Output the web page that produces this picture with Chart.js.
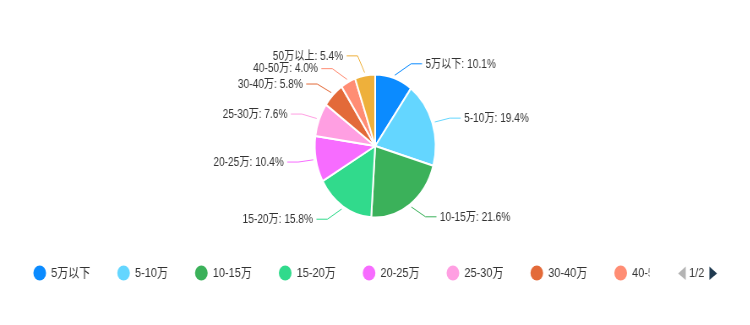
<!DOCTYPE html>
<html>
<head>
<meta charset="utf-8">
<title>收入分布</title>
<script src="https://cdn.jsdelivr.net/npm/chart.js@4/dist/chart.umd.min.js"></script>
<style>
  html, body { margin: 0; padding: 0; background: #fff; overflow: hidden; }
  /* the chart is drawn on a wider canvas and squeezed horizontally */
  #wrap { width: 888px; height: 325px; transform: scaleX(0.845); transform-origin: 0 0; }
</style>
</head>
<body>
<div id="wrap"><canvas id="grafico" width="888" height="325"></canvas></div>
<script>
const categorias = ['5万以下', '5-10万', '10-15万', '15-20万', '20-25万', '25-30万', '30-40万', '40-50万', '50万以上'];
const percentuais = [10.1, 19.4, 21.6, 15.8, 10.4, 7.6, 5.8, 4.0, 5.4];
const cores = ['#0b8bff', '#64d6ff', '#3bb15a', '#31da8c', '#f76cff', '#ff9fe2', '#e36a39', '#ff8d74', '#eeb03b'];
const paginaAtual = 1;
const totalPaginas = 2;

const FONTE = '"Liberation Sans", "Noto Sans CJK SC", sans-serif';

// labels outside the pie with a bent leader line
const rotulosExternos = {
    id: 'rotulosExternos',
    afterDatasetsDraw(chart) {
        const ctx = chart.ctx;
        const meta = chart.getDatasetMeta(0);
        const itens = meta.data.map((arc, i) => {
            const p = arc.getProps(['x', 'y', 'outerRadius', 'startAngle', 'endAngle'], true);
            const meio = (p.startAngle + p.endAngle) / 2;
            const c = Math.cos(meio), s = Math.sin(meio);
            return {
                i: i, cx: p.x, cy: p.y, r: p.outerRadius, direita: c >= 0,
                sx: p.x + c * (p.outerRadius + 3), sy: p.y + s * (p.outerRadius + 3),
                ly: p.y + s * (p.outerRadius + 15)
            };
        });

        // push overlapping labels upwards, side by side
        const espaco = 12.8;
        [true, false].forEach(lado => {
            const grupo = itens.filter(it => it.direita === lado).sort((a, b) => a.ly - b.ly);
            for (let k = grupo.length - 2; k >= 0; k--) {
                if (grupo[k + 1].ly - grupo[k].ly < espaco) {
                    grupo[k].ly = grupo[k + 1].ly - espaco;
                }
            }
        });

        ctx.save();
        ctx.font = '12px ' + FONTE;
        ctx.textBaseline = 'middle';
        ctx.lineWidth = 1;
        itens.forEach(it => {
            const R = it.r + 21;
            const dy = it.ly - it.cy;
            const dx = Math.sqrt(Math.max(R * R - dy * dy, 0));
            const lado = it.direita ? 1 : -1;
            const ex = it.cx + lado * dx;
            const fx = ex + lado * 13;

            ctx.strokeStyle = cores[it.i];
            ctx.beginPath();
            ctx.moveTo(it.sx, it.sy);
            ctx.lineTo(ex, it.ly);
            ctx.lineTo(fx, it.ly);
            ctx.stroke();

            ctx.fillStyle = '#333333';
            ctx.textAlign = it.direita ? 'left' : 'right';
            const texto = categorias[it.i] + ': ' + percentuais[it.i].toFixed(1) + '%';
            ctx.fillText(texto, fx + lado * 4, it.ly + 0.5);
        });
        ctx.restore();
    }
};

// single-row legend with pager
const legendaLinha = {
    id: 'legendaLinha',
    afterDraw(chart) {
        const ctx = chart.ctx;
        const y = 273;
        let x = 39.5;

        ctx.save();
        ctx.beginPath();
        ctx.rect(0, y - 14, 768.5, 28);
        ctx.clip();
        ctx.font = '13px ' + FONTE;
        ctx.textBaseline = 'middle';
        ctx.textAlign = 'left';
        categorias.forEach((nome, i) => {
            ctx.fillStyle = cores[i];
            ctx.beginPath();
            ctx.arc(x + 7.5, y, 7.5, 0, Math.PI * 2);
            ctx.fill();
            ctx.fillStyle = '#333333';
            ctx.fillText(nome, x + 21, y + 0.5);
            x += 21 + ctx.measureText(nome).width + 32;
        });
        ctx.restore();

        // pager arrows
        ctx.save();
        ctx.fillStyle = '#b4b4b4';
        ctx.beginPath();
        ctx.moveTo(811.5, y - 6.5);
        ctx.lineTo(802.5, y + 0.5);
        ctx.lineTo(811.5, y + 7);
        ctx.closePath();
        ctx.fill();

        ctx.fillStyle = '#404040';
        ctx.font = '13px ' + FONTE;
        ctx.textBaseline = 'middle';
        ctx.textAlign = 'left';
        ctx.fillText(paginaAtual + '/' + totalPaginas, 815.5, y + 0.5);

        ctx.fillStyle = '#1f3a50';
        ctx.beginPath();
        ctx.moveTo(839.5, y - 6.5);
        ctx.lineTo(848.5, y + 0.5);
        ctx.lineTo(839.5, y + 7);
        ctx.closePath();
        ctx.fill();
        ctx.restore();
    }
};

const ctx = document.getElementById('grafico');
const grafico = new Chart(ctx, {
    type: 'pie',
    data: {
        labels: categorias,
        datasets: [{
            data: percentuais,
            backgroundColor: cores,
            borderColor: '#ffffff',
            borderWidth: 2,
            radius: 71.5
        }]
    },
    options: {
        responsive: false,
        animation: false,
        events: [],
        layout: {
            padding: { left: 0, right: 0, top: 60, bottom: 93 }
        },
        plugins: {
            legend: { display: false },
            tooltip: { enabled: false }
        }
    },
    plugins: [rotulosExternos, legendaLinha]
});
</script>
</body>
</html>
